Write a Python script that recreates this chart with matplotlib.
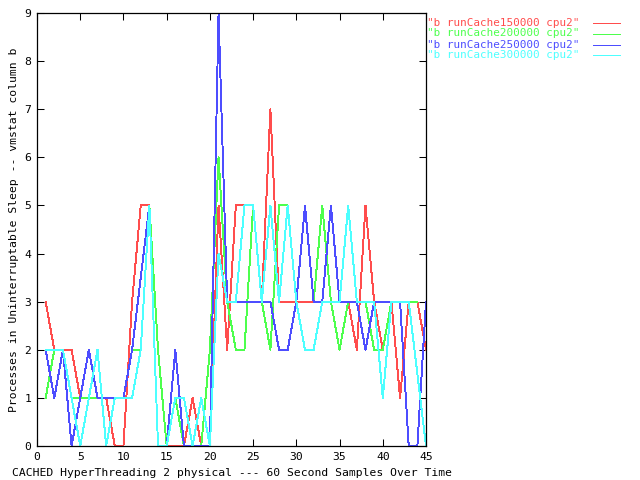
import matplotlib
matplotlib.use("Agg")
import matplotlib.pyplot as plt
from matplotlib.lines import Line2D

x = list(range(1, 46))

cache150000 = [3, 2, 2, 2, 1, 1, 1, 1, 0, 0, 3, 5, 5, 0, 0, 0, 0, 1, 0, 0,
               5, 2, 5, 5, 5, 3, 7, 3, 3, 3, 3, 3, 3, 3, 3, 3, 2, 5, 3, 2,
               3, 1, 3, 3, 2]
cache200000 = [1, 2, 2, 1, 1, 1, 1, 1, 1, 1, 2, 2, 5, 2, 0, 1, 0, 0, 0, 2,
               6, 3, 2, 2, 5, 3, 2, 5, 5, 3, 5, 3, 5, 3, 2, 3, 3, 3, 2, 2,
               3, 3, 3, 3]
cache250000 = [2, 1, 2, 0, 1, 2, 1, 1, 1, 1, 2, 3.5, 5, 0, 0, 2, 0, 0, 0, 0,
               9, 3, 3, 3, 3, 3, 3, 2, 2, 3, 5, 3, 3, 5, 3, 3, 3, 2, 3, 3,
               3, 3, 0, 0, 3]
cache300000 = [2, 2, 2, 1, 0, 1, 2, 0, 1, 1, 1, 2, 5, 0, 0, 1, 1, 0, 1, 0,
               4, 3, 3, 5, 5, 3, 5, 3, 5, 3, 2, 2, 3, 3, 3, 5, 3, 3, 3, 1,
               3, 3, 3, 1.5, 0]

series = [
    ('"b runCache150000 cpu2"', cache150000, "#ff4d4d"),
    ('"b runCache200000 cpu2"', cache200000, "#4dff4d"),
    ('"b runCache250000 cpu2"', cache250000, "#4d4dff"),
    ('"b runCache300000 cpu2"', cache300000, "#4dffff"),
]

xticks = list(range(0, 46, 5))
yticks = list(range(0, 10))

FONT = "DejaVu Sans Mono"
FS = 8.2
LW = 0.68

fig = plt.figure(figsize=(6.4, 4.8), dpi=100)
W, H = 640, 480
L, R, T, B = 37, 426, 13, 446
ax = fig.add_axes([L / W, 1 - B / H, (R - L) / W, (B - T) / H])

for label, ys, col in series:
    ax.plot(x[:len(ys)], ys, color=col, lw=LW, antialiased=False)

ax.set_xlim(0, 45)
ax.set_ylim(0, 9)
ax.set_xticks(xticks)
ax.set_yticks(yticks)
ax.tick_params(direction="in", length=5, width=0.75, top=True, right=True,
               labelsize=FS, pad=4)
for lab in ax.get_xticklabels() + ax.get_yticklabels():
    lab.set_family(FONT)
for s in ax.spines.values():
    s.set_linewidth(0.9)
    s.set_color("black")

ax.set_xlabel("CACHED HyperThreading 2 physical --- 60 Second Samples Over Time",
              family=FONT, fontsize=FS, labelpad=5)
ax.set_ylabel("Processes in Uninterruptable Sleep -- vmstat column b",
              family=FONT, fontsize=FS, labelpad=4)

# legend outside on the right, gnuplot style
row_y = [22.5, 33.5, 44.5, 55]
for (label, ys, col), py in zip(series, row_y):
    fig.text(427 / W, 1 - py / H, label, family=FONT, fontsize=7.9,
             color=col, va="center", ha="left")
    fig.add_artist(Line2D([593 / W, 620 / W], [1 - py / H, 1 - py / H],
                          color=col, lw=LW, antialiased=False,
                          transform=fig.transFigure))

fig.savefig("out.png", dpi=100)
